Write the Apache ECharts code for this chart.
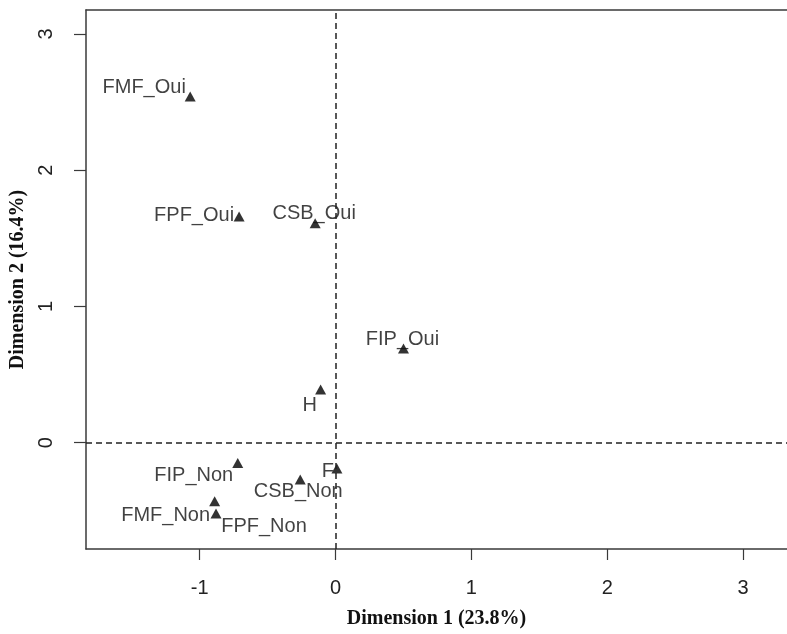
<!DOCTYPE html>
<html>
<head>
<meta charset="utf-8">
<script src="https://cdn.jsdelivr.net/npm/echarts@6/dist/echarts.min.js"></script>
<style>
  html, body { margin: 0; padding: 0; background: #fff; }
  #chart { width: 787px; height: 634px; }
</style>
</head>
<body>
<div id="chart"></div>
<script>
// categories (modalités) and their coordinates on the two dimensions
const names = ["FMF_Oui", "FPF_Oui", "CSB_Oui", "FIP_Oui", "H", "FIP_Non", "F", "CSB_Non", "FMF_Non", "FPF_Non"];
const dim1 = [-1.07, -0.71, -0.15, 0.50, -0.11, -0.72, 0.01, -0.26, -0.89, -0.88];
const dim2 = [2.54, 1.66, 1.61, 0.69, 0.39, -0.15, -0.19, -0.27, -0.43, -0.52];

// tick labels
const xTicks = [-1, 0, 1, 2, 3];
const yTicks = [0, 1, 2, 3];

// where each label sits around its triangle (text centre offset, px)
const labelShift = {
  FMF_Oui: [-46, -9],
  FPF_Oui: [-45, -1],
  CSB_Oui: [-1, -10],
  FIP_Oui: [-1, -9],
  H: [-11, 16],
  FIP_Non: [-44, 12],
  F: [-9, 3],
  CSB_Non: [-2, 12],
  FMF_Non: [-49, 14],
  FPF_Non: [48, 13]
};

const chart = echarts.init(document.getElementById("chart"));

const axisColor = "#3a3a3a";
const points = names.map((n, i) => ({
  name: n,
  value: [dim1[i], dim2[i]],
  label: { offset: labelShift[n] }
}));

const option = {
  backgroundColor: "#fff",
  animation: false,
  grid: { left: 84, top: 10, right: 0, bottom: 82 },
  xAxis: [
    {
      type: "value",
      min: -1.837,
      max: 3.323,
      position: "bottom",
      splitLine: { show: false },
      axisLine: { show: true, onZero: false, lineStyle: { color: axisColor, width: 1.5 } },
      axisTick: { show: true, length: 11, customValues: xTicks, lineStyle: { color: axisColor, width: 1.2 } },
      axisLabel: {
        customValues: xTicks,
        margin: 29,
        fontSize: 20,
        fontFamily: "Liberation Sans",
        color: "#222"
      },
      name: "Dimension 1 (23.8%)",
      nameLocation: "middle",
      nameGap: 60,
      nameTextStyle: { fontFamily: "Liberation Serif", fontWeight: "bold", fontSize: 20, color: "#111" }
    },
    {
      type: "value",
      min: -1.837,
      max: 3.323,
      position: "top",
      splitLine: { show: false },
      axisLine: { show: true, onZero: false, lineStyle: { color: axisColor, width: 1.5 } },
      axisTick: { show: false },
      axisLabel: { show: false }
    }
  ],
  yAxis: {
    type: "value",
    min: -0.781,
    max: 3.175,
    splitLine: { show: false },
    axisLine: { show: true, onZero: false, lineStyle: { color: axisColor, width: 1.5 } },
    axisTick: { show: true, length: 12, customValues: yTicks, lineStyle: { color: axisColor, width: 1.2 } },
    axisLabel: {
      customValues: yTicks,
      rotate: 90,
      margin: 30,
      fontSize: 20,
      fontFamily: "Liberation Sans",
      color: "#222"
    },
    name: "Dimension 2 (16.4%)",
    nameLocation: "middle",
    nameGap: 58,
    nameTextStyle: { fontFamily: "Liberation Serif", fontWeight: "bold", fontSize: 20, color: "#111" }
  },
  series: [
    {
      type: "scatter",
      xAxisIndex: 0,
      symbol: "triangle",
      symbolSize: [11, 10],
      itemStyle: { color: "#000" },
      label: {
        show: true,
        position: "inside",
        align: "center",
        verticalAlign: "middle",
        formatter: "{b}",
        fontSize: 20,
        fontFamily: "Liberation Sans",
        color: "#111",
        textBorderWidth: 0,
        textBorderColor: "transparent"
      },
      data: points,
      markLine: {
        silent: true,
        symbol: "none",
        label: { show: false },
        lineStyle: { color: "#222", type: [6, 4], width: 1.5 },
        data: [{ xAxis: 0 }, { yAxis: 0 }]
      }
    }
  ]
};

chart.setOption(option);
</script>
</body>
</html>
